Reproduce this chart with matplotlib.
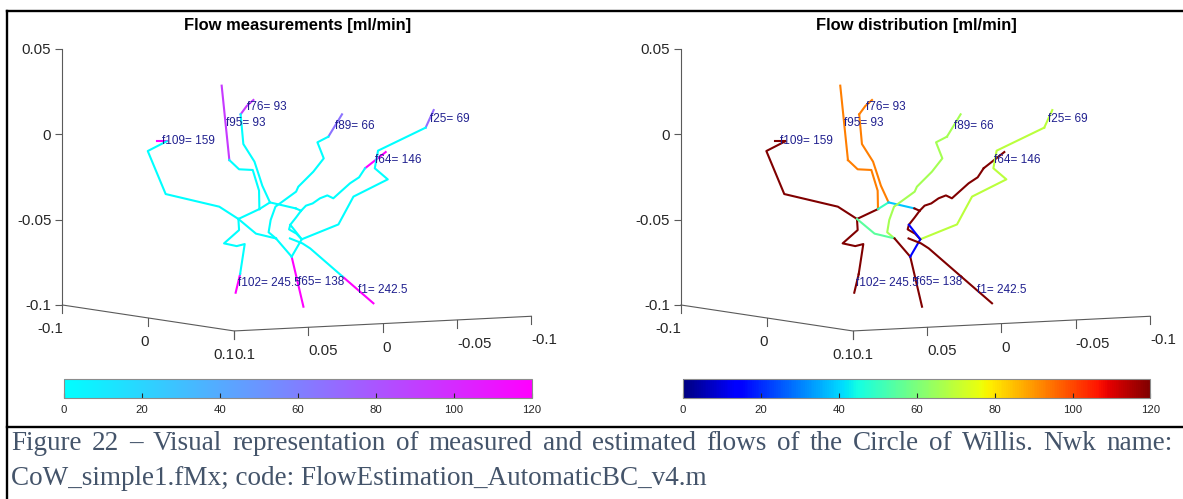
import matplotlib
matplotlib.use("Agg")
import matplotlib.pyplot as plt
import numpy as np
from matplotlib.cm import ScalarMappable
from matplotlib.colors import Normalize
from matplotlib.lines import Line2D

plt.rcParams['font.family'] = ['Liberation Sans', 'DejaVu Sans']

# vessel network, projected screen coordinates (u, z) in mm
nodes = {
    "A1": (93.3, 28.5), "A2": (97.8, -15.1), "A3": (103.5, -20.5),
    "A4": (111.5, -20.9), "A5": (115.2, -33.0), "H1": (115.4, -43.8),
    "B1": (111.9, 20.1), "B2": (108.0, 16.6), "B3": (104.4, 11.7),
    "B4": (106.0, -5.7), "B5": (112.5, -16.0), "B6": (115.4, -24.8),
    "B7": (117.1, -30.1), "H2": (121.6, -39.9),
    "C0": (55.2, -4.1), "C1": (61.1, -4.1), "C2": (50.0, -9.8),
    "C3": (60.5, -35.0), "C4": (91.9, -42.4), "H0": (103.1, -49.6),
    "D0": (101.5, -92.8), "D1": (104.1, -81.9), "D2": (106.8, -64.3),
    "D3": (102.1, -65.5), "D4": (94.7, -63.9), "D5": (103.5, -56.1),
    "H3": (136.7, -43.4), "H4": (139.8, -44.8),
    "E0": (189.4, -10.4), "E1": (177.3, -19.9), "E2": (173.8, -25.2),
    "E3": (168.5, -28.7), "E4": (158.7, -37.5), "E5": (155.2, -35.8),
    "E6": (150.9, -37.5), "E7": (146.6, -40.5), "E8": (142.7, -41.8),
    "F0": (163.8, 11.7), "F1": (155.8, -1.4), "F2": (149.4, -4.7),
    "F3": (153.1, -14.1), "F4": (147.0, -21.9), "F5": (138.2, -30.7),
    "F6": (136.9, -33.6), "F7": (124.8, -42.4), "F8": (122.0, -50.2),
    "F9": (120.8, -57.4), "H5": (125.1, -61.0),
    "G0": (217.5, 14.2), "G1": (212.8, 3.9), "G2": (184.9, -9.6),
    "G3": (183.0, -19.9), "G4": (190.6, -26.4), "G5": (170.5, -36.5),
    "G6": (161.7, -52.8), "H6": (140.2, -61.5),
    "K0": (141.2, -101.0), "H7": (134.3, -71.7),
    "L1": (113.4, -58.2),
    "N1": (136.9, -48.7), "N2": (133.5, -53.0), "N3": (132.8, -55.7),
    "N4": (137.1, -58.2),
    "Q0": (133.3, -61.0), "Q1": (140.6, -63.9), "P1": (145.1, -66.8),
    "P2": (164.2, -83.4), "P3": (182.2, -99.0),
}

seg_paths = [
    ["A1", "A2"], ["A2", "A3", "A4", "A5", "H1"],
    ["B1", "B2", "B3"], ["B3", "B4", "B5", "B6", "B7", "H2"],
    ["C0", "C1"], ["C1", "C2", "C3", "C4", "H0"],
    ["D0", "D1"], ["D1", "D2", "D3", "D4", "D5", "H0"],
    ["H0", "H1"], ["H1", "H2"], ["H2", "H3"], ["H3", "H4"],
    ["E0", "E1"], ["E1", "E2", "E3", "E4", "E5", "E6", "E7", "E8", "H4"],
    ["F0", "F1"], ["F1", "F2", "F3", "F4", "F5", "F6", "F7", "F8", "F9", "H5"],
    ["G0", "G1"], ["G1", "G2", "G3", "G4", "G5", "G6", "H6"],
    ["K0", "H7"],
    ["H0", "L1", "H5"], ["H5", "H7"],
    ["H4", "N1", "N2", "N3", "N4", "H6"], ["N2", "H6", "H7"],
    ["P2", "P3"], ["Q0", "Q1", "P1", "P2"],
]
seg_labels = ["f95", None, "f76", None, "f109", None, "f102", None,
              None, None, None, None, "f64", None, "f89", None, "f25", None,
              "f65", None, None, None, None, "f1", None]
# measured flow (0 where the vessel has no measurement) [ml/min]
seg_measured = [93, 0, 93, 0, 159, 0, 245.5, 0,
                0, 0, 0, 0, 146, 0, 66, 0, 69, 0,
                138, 0, 0, 0, 0, 242.5, 0]
# estimated flow distribution [ml/min]
seg_estimated = [93, 93, 93, 93, 159, 159, 245.5, 245.5,
                 161, 50, 38, 130, 146, 146, 66, 66, 69, 69,
                 138, 55, 145, 128, 15, 242.5, 242.5]

titles = ["Flow measurements [ml/min]", "Flow distribution [ml/min]"]
cmaps = ["cool", "jet"]
cb_ticks = [0, 20, 40, 60, 80, 100, 120]
z_ticks = [-0.1, -0.05, 0, 0.05]
x_floor_ticks = [-0.1, 0, 0.1]
y_floor_ticks = [0.1, 0.05, 0, -0.05, -0.1]
caption = ["Figure 22 \u2013 Visual representation of measured and estimated flows "
           "of the Circle of Willis. Nwk name:",
           "CoW_simple1.fMx; code: FlowEstimation_AutomaticBC_v4.m"]

# layout (pixels)
W, H, DPI = 1183, 499, 100
SCALE = 1.707            # px per mm on screen
ZERO_Y = 134.3           # pixel row of z = 0
panel_x0 = [62.4, 681.0]  # pixel column of the z axis in each panel
XLIM = (-35, 290)
YLIM = (-128, 70)
floor_back = np.array([0.0, -100.0])
floor_front = np.array([100.6, -115.2])
floor_right = np.array([274.7, -106.6])
AX_COL = "#5a5a5a"
TXT_COL = "#262626"


def rect_px(x0, x1, y_top, y_bot):
    return [x0 / W, 1 - y_bot / H, (x1 - x0) / W, (y_bot - y_top) / H]


fig = plt.figure(figsize=(W / DPI, H / DPI), dpi=DPI)
norm = Normalize(0, 120)

for ox, title, cmap_name, values in zip(panel_x0, titles, cmaps,
                                         [seg_measured, seg_estimated]):
    cmap = plt.get_cmap(cmap_name)
    ax = fig.add_axes(rect_px(ox + XLIM[0] * SCALE, ox + XLIM[1] * SCALE,
                              ZERO_Y - YLIM[1] * SCALE, ZERO_Y - YLIM[0] * SCALE))
    ax.set_xlim(XLIM)
    ax.set_ylim(YLIM)
    ax.patch.set_alpha(0)
    for s in ["top", "right", "bottom"]:
        ax.spines[s].set_visible(False)
    ax.spines["left"].set_position(("data", 0))
    ax.spines["left"].set_bounds(-100, 50)
    ax.spines["left"].set_color(AX_COL)
    ax.spines["left"].set_linewidth(0.8)
    ax.set_xticks([])
    ax.set_yticks([t * 1000 for t in z_ticks])
    ax.set_yticklabels(["%g" % t for t in z_ticks])
    ax.tick_params(axis="y", direction="out", length=5, width=0.8,
                   color=AX_COL, labelsize=10.8, labelcolor=TXT_COL, pad=3)

    # floor edges of the 3-D box
    edge = np.array([floor_back, floor_front, floor_right])
    ax.plot(edge[:, 0], edge[:, 1], color=AX_COL, lw=0.8, clip_on=False)
    for t in x_floor_ticks:
        p = floor_back + (t + 0.1) / 0.2 * (floor_front - floor_back)
        ax.plot([p[0], p[0]], [p[1], p[1] - 4.7], color=AX_COL, lw=0.8)
        ax.text(p[0] + 0.4, p[1] - 14.3, "%g" % t, ha="right", va="center",
                fontsize=10.8, color=TXT_COL)
    for t in y_floor_ticks:
        p = floor_front + (0.1 - t) / 0.2 * (floor_right - floor_front)
        ax.plot([p[0], p[0]], [p[1], p[1] - 4.7], color=AX_COL, lw=0.8)
        ax.text(p[0], p[1] - 14.0, "%g" % t, ha="left", va="center",
                fontsize=10.8, color=TXT_COL)

    # vessels
    for path, val in zip(seg_paths, values):
        pts = np.array([nodes[n] for n in path])
        ax.plot(pts[:, 0], pts[:, 1], color=cmap(norm(val)), lw=1.5,
                clip_on=False)
    for lab, path, meas in zip(seg_labels, seg_paths, seg_measured):
        if lab is None:
            continue
        a, b = np.array(nodes[path[0]]), np.array(nodes[path[-1]])
        mid = (a + b) / 2
        ax.text(mid[0], mid[1], "%s= %g" % (lab, meas), color="#20208f",
                fontsize=8.5, ha="left", va="center")

    ax.text(137.6, 64.0, title, ha="center", va="center", fontsize=11.9,
            fontweight="bold", color="black")

    # colour bar under the panel
    cax = fig.add_axes(rect_px(ox + 1.7, ox + 469.5, 379.3, 397.7))
    cb = fig.colorbar(ScalarMappable(norm=norm, cmap=cmap), cax=cax,
                      orientation="horizontal", ticks=cb_ticks)
    cb.outline.set_edgecolor("#8c8c8c")
    cb.outline.set_linewidth(0.8)
    cax.tick_params(direction="in", length=3.8, width=0.8, color=TXT_COL,
                    labelsize=8.2, labelcolor=TXT_COL, pad=5)

# frame around the figure and caption
for xs, ys in [([7, W], [11, 11]), ([7, 7], [11, H]), ([7, W], [427, 427])]:
    fig.add_artist(Line2D([x / W for x in xs], [1 - y / H for y in ys],
                          transform=fig.transFigure, color="black", lw=1.7))

cap_kw = dict(fontsize=19.5, family=["Liberation Serif", "DejaVu Serif"],
              color="#44546a", va="baseline")
renderer = fig.canvas.get_renderer()
words = caption[0].split(" ")
word_txt = [fig.text(0, 1 - 450 / H, w, **cap_kw) for w in words]
widths = [t.get_window_extent(renderer).width for t in word_txt]
x_left, x_right = 11.3, 1173.0
gap = (x_right - x_left - sum(widths)) / (len(words) - 1)
x = x_left
for t, w in zip(word_txt, widths):
    t.set_x(x / W)
    x += w + gap
fig.text(x_left / W, 1 - 485 / H, caption[1], **cap_kw)

fig.savefig("out.png", dpi=DPI)
